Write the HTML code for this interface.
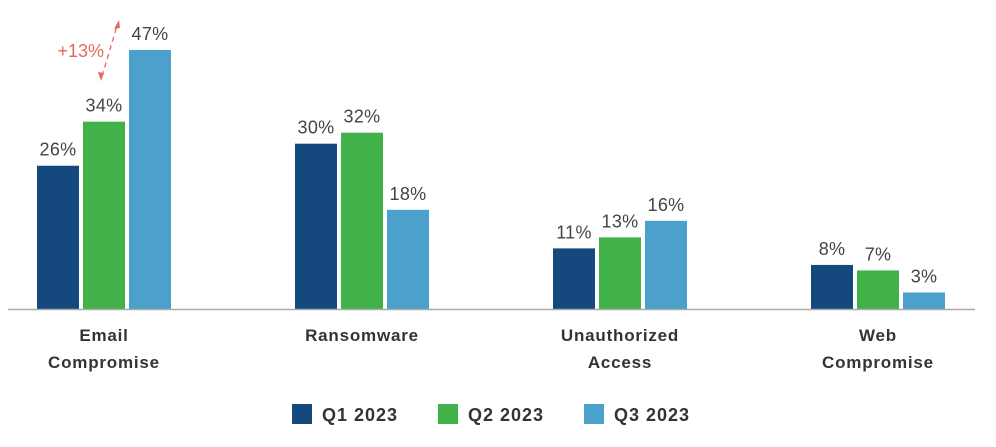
<!DOCTYPE html>
<html><head><meta charset="utf-8"><style>
body{margin:0;background:#fff;width:996px;height:442px;overflow:hidden;font-family:"Liberation Sans",sans-serif}
</style></head><body>
<svg id="chart" width="996" height="442" xmlns="http://www.w3.org/2000/svg"></svg>
<script>
const categories=[["Email","Compromise"],["Ransomware"],["Unauthorized","Access"],["Web","Compromise"]];
const seriesNames=["Q1 2023","Q2 2023","Q3 2023"];
const q1=[26,30,11,8];
const q2=[34,32,13,7];
const q3=[47,18,16,3];
const colors=["#15497e","#41b14a","#4ba0cc"];
const NS="http://www.w3.org/2000/svg";
const svg=document.getElementById('chart');
const base=309,scale=5.51,groupStart=104,groupStep=258,bw=42,gap=4;
const y=v=>base-v*scale;
const gx=i=>groupStart+i*groupStep;
function mk(t,a,txt){const e=document.createElementNS(NS,t);for(const k in a)e.setAttribute(k,a[k]);if(txt!==undefined)e.textContent=txt;svg.appendChild(e);return e;}
const series=[q1,q2,q3];
series.forEach((s,si)=>{s.forEach((v,ci)=>{
 const x=gx(ci)+(si-1)*(bw+gap)-bw/2;
 const r=mk('rect',{x:x,y:y(v),width:bw,height:v*scale,fill:colors[si]});
 
 
 const t=mk('text',{x:x+bw/2,y:y(v)-10,'text-anchor':'middle','font-size':'18','letter-spacing':'0.3',fill:'#444'},v+'%');
 
 
});});
const ax=mk('line',{x1:8,x2:975,y1:base+0.5,y2:base+0.5,stroke:'#aaa','stroke-width':1.5});


categories.forEach((c,ci)=>{c.forEach((l,li)=>{
 const t=mk('text',{x:gx(ci),y:341+li*27,'text-anchor':'middle','font-size':'17','font-weight':'bold','letter-spacing':'0.8',fill:'#333'},l);
 
 
});});
const a=mk('g',{});


mk('line',{x1:102,y1:76,x2:117,y2:26,stroke:'#e8675d','stroke-width':1.3,'stroke-dasharray':'5,4'});
mk('polygon',{points:'119,20 114,29 120,28',fill:'#e8675d'});
mk('polygon',{points:'101,81 98,72 104,73',fill:'#e8675d'});
const at=mk('text',{x:104,y:57,'text-anchor':'end','font-size':'18',fill:'#e8675d'},'+13%');


seriesNames.forEach((n,i)=>{
 const x=292+i*146;
 const r=mk('rect',{x:x,y:404,width:20,height:20,fill:colors[i]});
 
 
 const t=mk('text',{x:x+30,y:421,'font-size':'18','font-weight':'bold','letter-spacing':'1',fill:'#333'},n);
 
 
});
</script>
</body></html>
